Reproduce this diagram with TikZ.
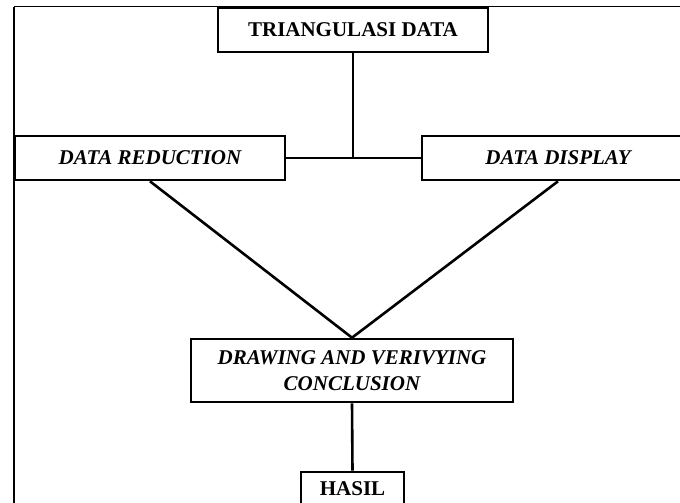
\documentclass[tikz,border=0pt]{standalone}
\usepackage{fontspec}
\setmainfont{Liberation Serif}
\usepackage{tikz}
\usetikzlibrary{positioning}

\tikzset{
  box/.style={draw, line width=2.6pt, inner sep=0pt, align=center,
    font=\fontsize{21}{26}\selectfont\bfseries},
  boxit/.style={box, font=\fontsize{21}{26}\selectfont\bfseries\itshape},
  link/.style={line width=2.6pt}
}

\begin{document}
\begin{tikzpicture}[x=1pt,y=-1pt]
    \clip (0,0) rectangle (680,503);
    \fill[white] (0,0) rectangle (680,503);

    % the frame
    \draw[line width=1pt] (14,7) -- (680,7);
    \draw[line width=2.6pt] (14,7) -- (14,503);

    % the boxes
    \node[box, minimum width=270pt, minimum height=44pt] (triangulasi) at (353,30) {TRIANGULASI DATA};
    \node[boxit, minimum width=270pt, minimum height=44pt] (reduction) at (150,158) {DATA REDUCTION};
    \node[boxit, minimum width=272pt, minimum height=44pt] (display) at (558,158) {DATA DISPLAY};
    \node[boxit, minimum width=322pt, minimum height=63pt] (conclusion) at (352,370.5) {DRAWING AND VERIVYING\\CONCLUSION};
    \node[box, minimum width=103pt, minimum height=34pt] (hasil) at (352.5,489) {HASIL};

    % the links
    \draw[link] (reduction.east) -- (display.west);
    \draw[link] (triangulasi.south) -- (triangulasi.south |- reduction.east);
    \draw[link] (reduction.south) -- (conclusion.north);
    \draw[link] (display.south) -- (conclusion.north);
    \draw[link] (conclusion.south) -- (hasil.north);
\end{tikzpicture}
\end{document}
